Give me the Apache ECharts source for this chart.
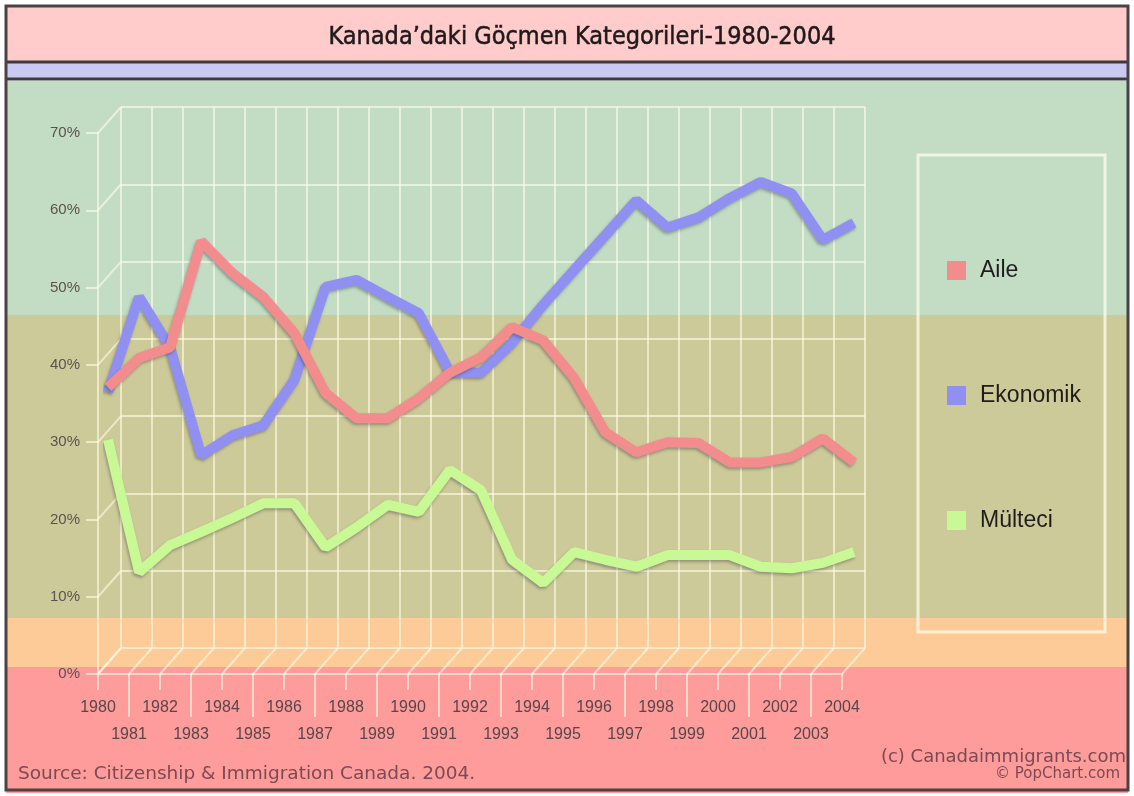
<!DOCTYPE html>
<html>
<head>
<meta charset="utf-8">
<title>Kanada'daki Göçmen Kategorileri</title>
<script src="https://cdn.jsdelivr.net/npm/echarts@6/dist/echarts.min.js"></script>
<style>
  html, body { margin: 0; padding: 0; background: #ffffff; }
  #chart { width: 1134px; height: 796px; }
</style>
</head>
<body>
<div id="chart"></div>
<script>
(function () {
  const years = [
    "1980", "1981", "1982", "1983", "1984", "1985", "1986", "1987", "1988",
    "1989", "1990", "1991", "1992", "1993", "1994", "1995", "1996", "1997",
    "1998", "1999", "2000", "2001", "2002", "2003", "2004"
  ];
  const aile = [
    35.4, 39.2, 40.6, 54.3, 50.2, 47.1, 42.4, 34.7, 31.4, 31.4, 34.0, 37.3, 39.3,
    43.2, 41.5, 36.6, 29.6, 27.0, 28.3, 28.2, 25.7, 25.7, 26.4, 28.8, 25.7
  ];
  const ekonomik = [
    34.8, 47.1, 40.6, 26.6, 29.2, 30.5, 36.4, 48.4, 49.3, 47.1, 45.0, 37.4, 37.3,
    41.2, 46.1, 50.6, 55.1, 59.6, 56.1, 57.4, 59.9, 62.0, 60.5, 54.5, 56.7
  ];
  const multeci = [
    28.6, 11.5, 15.0, 16.7, 18.5, 20.4, 20.4, 14.7, 17.3, 20.2, 19.3, 24.7, 22.1,
    13.1, 10.1, 14.1, 13.1, 12.2, 13.7, 13.7, 13.7, 12.2, 12.0, 12.7, 14.1
  ];
  const yTicks = [0, 10, 20, 30, 40, 50, 60, 70];
  const seriesNames = ["Aile", "Ekonomik", "Mülteci"];

  const W = 1134;
  const H = 796;
  const depthX = 23;
  const depthY = -26;
  const gridLine = "rgba(255, 252, 230, 0.62)";
  const labelColor = "#574749";
  const font = "'Liberation Sans', Arial, sans-serif";
  const wideFont = "'DejaVu Sans', Verdana, sans-serif";

  // front plane (labels), back wall (grid), middle plane (data)
  const front = { left: 98, right: W - 842, top: 133, bottom: H - 674 };
  const back = { left: front.left + depthX, right: front.right - depthX, top: front.top + depthY, bottom: front.bottom - depthY };
  const mid = { left: front.left + 10, right: front.right - 12, top: front.top - 13, bottom: front.bottom + 13 };

  function depthLine(params, api) {
    const p = api.coord([api.value(0), api.value(1)]);
    return {
      type: "line",
      shape: { x1: p[0], y1: p[1], x2: p[0] + depthX, y2: p[1] + depthY },
      style: { stroke: gridLine, lineWidth: 2 }
    };
  }

  function dataLine(name, values, color) {
    return {
      name: name,
      type: "line",
      xAxisIndex: 3,
      yAxisIndex: 2,
      data: values,
      symbol: "none",
      z: 5,
      itemStyle: { color: color },
      lineStyle: {
        color: color,
        width: 10,
        join: "bevel",
        shadowColor: "rgba(40, 40, 60, 0.35)",
        shadowBlur: 3,
        shadowOffsetX: -1,
        shadowOffsetY: 2
      },
      emphasis: { disabled: true }
    };
  }

  const bands = [
    { y: 81, h: 234, color: "#c2ddc3" },
    { y: 315, h: 303, color: "#cdca99" },
    { y: 618, h: 49, color: "#fdcb98" },
    { y: 667, h: 126, color: "#fe9b9b" }
  ];

  const graphics = bands.map((b) => ({
    type: "rect",
    z: -100,
    shape: { x: 6, y: b.y, width: W - 12, height: b.h },
    style: { fill: b.color }
  }));

  graphics.push(
    { type: "rect", z: -100, shape: { x: 6, y: 6, width: W - 12, height: 56 }, style: { fill: "#ffcbcb" } },
    { type: "rect", z: -100, shape: { x: 6, y: 62, width: W - 12, height: 17 }, style: { fill: "#c9c9f2" } },
    { type: "line", z: 50, shape: { x1: 6, y1: 62, x2: W - 6, y2: 62 }, style: { stroke: "#3e3a3c", lineWidth: 3 } },
    { type: "line", z: 50, shape: { x1: 6, y1: 79, x2: W - 6, y2: 79 }, style: { stroke: "#3e3a3c", lineWidth: 3 } },
    { type: "rect", z: 50, shape: { x: 6, y: 6, width: W - 12, height: H - 12 }, style: { fill: null, stroke: "#4a4244", lineWidth: 3 } },
    { type: "rect", z: 1, shape: { x: 918, y: 155, width: 187, height: 477 }, style: { fill: null, stroke: "rgba(255, 252, 235, 0.75)", lineWidth: 3 } },
    {
      type: "text", z: 50, x: 582, y: 37,
      style: {
        text: "Kanada’daki Göçmen Kategorileri-1980-2004",
        font: "25px 'Liberation Sans Narrow', 'DejaVu Sans Condensed', Arial, sans-serif",
        fill: "#1e1a1b", stroke: "#1e1a1b", lineWidth: 0.5,
        align: "center", verticalAlign: "middle"
      }
    },
    {
      type: "text", z: 50, x: 18, y: 774,
      style: {
        text: "Source: Citizenship & Immigration Canada. 2004.",
        font: "18.5px " + wideFont, fill: "#7b4a52", verticalAlign: "middle"
      }
    },
    {
      type: "text", z: 50, x: 1126, y: 757,
      style: {
        text: "(c) Canadaimmigrants.com",
        font: "18px " + wideFont, fill: "#7b4a52", align: "right", verticalAlign: "middle"
      }
    },
    {
      type: "text", z: 50, x: 1120, y: 774,
      style: {
        text: "© PopChart.com",
        font: "15px " + wideFont, fill: "#7b4a52", align: "right", verticalAlign: "middle"
      }
    }
  );

  const chart = echarts.init(document.getElementById("chart"), null, { renderer: "canvas" });

  chart.setOption({
    animation: false,
    backgroundColor: "#ffffff",
    graphic: graphics,
    legend: {
      orient: "vertical",
      left: 942,
      top: 254,
      itemGap: 102,
      itemWidth: 19,
      itemHeight: 19,
      icon: "rect",
      selectedMode: false,
      data: seriesNames,
      textStyle: { fontFamily: font, fontSize: 23, color: "#1f1c1c", padding: [0, 0, 0, 9], lineHeight: 19 }
    },
    grid: [
      { ...front, containLabel: false },
      { ...back, containLabel: false },
      { ...mid, containLabel: false }
    ],
    xAxis: [
      {
        // front axis, even-year labels with short ticks
        type: "category", gridIndex: 0, position: "bottom", data: years, boundaryGap: false,
        axisLine: { show: true, lineStyle: { color: gridLine, width: 2 } },
        axisTick: { show: true, length: 16, interval: (i) => i % 2 === 0, lineStyle: { color: gridLine, width: 2 } },
        axisLabel: { interval: (i) => i % 2 === 0, margin: 26, fontFamily: font, fontSize: 16, color: labelColor },
        splitLine: { show: false }
      },
      {
        // back wall grid
        type: "category", gridIndex: 1, position: "bottom", data: years, boundaryGap: false,
        axisLine: { show: false }, axisTick: { show: false }, axisLabel: { show: false },
        splitLine: { show: true, interval: 0, lineStyle: { color: gridLine, width: 2 } }
      },
      {
        // front axis, odd-year labels with long ticks
        type: "category", gridIndex: 0, position: "bottom", offset: 0, data: years, boundaryGap: false,
        axisLine: { show: false },
        axisTick: { show: true, length: 43, interval: (i) => i % 2 === 1, lineStyle: { color: gridLine, width: 2 } },
        axisLabel: { interval: (i) => i % 2 === 1, margin: 53, fontFamily: font, fontSize: 16, color: labelColor },
        splitLine: { show: false }
      },
      {
        // data plane
        type: "category", gridIndex: 2, data: years, boundaryGap: false, show: false
      }
    ],
    yAxis: [
      {
        type: "value", gridIndex: 0, min: 0, max: 70, interval: 10,
        axisLine: { show: true, lineStyle: { color: gridLine, width: 2 } },
        axisTick: { show: true, length: 12, lineStyle: { color: gridLine, width: 2 } },
        axisLabel: { margin: 18, formatter: "{value}%", fontFamily: font, fontSize: 15, color: "#5c5152" },
        splitLine: { show: false }
      },
      {
        type: "value", gridIndex: 1, min: 0, max: 70, interval: 10,
        axisLine: { show: false }, axisTick: { show: false }, axisLabel: { show: false },
        splitLine: { show: true, lineStyle: { color: gridLine, width: 2 } }
      },
      {
        type: "value", gridIndex: 2, min: 0, max: 70, interval: 10, show: false
      }
    ],
    series: [
      {
        // floor depth lines at each year
        type: "custom", xAxisIndex: 0, yAxisIndex: 0, silent: true, z: 1,
        data: years.map((y) => [y, 0]),
        encode: { x: 0, y: 1 },
        renderItem: depthLine
      },
      {
        // left wall depth lines at each tick
        type: "custom", xAxisIndex: 0, yAxisIndex: 0, silent: true, z: 1,
        data: yTicks.map((v) => [years[0], v]),
        encode: { x: 0, y: 1 },
        renderItem: depthLine
      },
      dataLine("Ekonomik", ekonomik, "#9090f2"),
      dataLine("Mülteci", multeci, "#c9f994"),
      dataLine("Aile", aile, "#f38c8d")
    ]
  });
})();
</script>
</body>
</html>
